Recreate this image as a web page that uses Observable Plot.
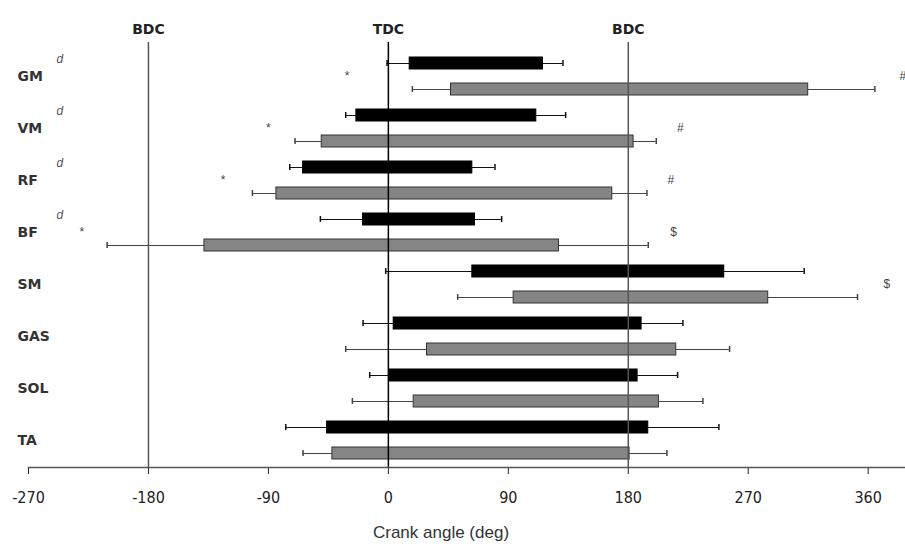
<!DOCTYPE html>
<html>
<head>
<meta charset="utf-8">
<script src="https://cdn.jsdelivr.net/npm/d3@7"></script>
<script src="https://cdn.jsdelivr.net/npm/@observablehq/plot@0.6"></script>
<style>
  html, body { margin: 0; padding: 0; background: #fff; }
  #chart svg { display: block; }
</style>
</head>
<body>
<div id="chart"></div>
<script>
// ---- data (crank angles in degrees) ----
const muscles = ["GM", "VM", "RF", "BF", "SM", "GAS", "SOL", "TA"];
const sessions = ["black", "gray"];
// black bars (first condition)
const onsetBlack   = [16, -24, -64, -19, 63, 4, 1, -46];
const offsetBlack  = [116, 111, 63, 65, 252, 190, 187, 195];
const onsetSDBlack = [17, 8, 10, 32, 65, 23, 15, 31];
const offsetSDBlack= [15, 22, 17, 20, 60, 31, 30, 53];
// gray bars (second condition)
const onsetGray    = [47, -50, -84, -138, 94, 29, 19, -42];
const offsetGray   = [315, 184, 168, 128, 285, 216, 203, 181];
const onsetSDGray  = [29, 20, 18, 73, 42, 61, 46, 22];
const offsetSDGray = [50, 17, 26, 67, 67, 40, 33, 28];

const xTicks = [-270, -180, -90, 0, 90, 180, 270, 360];
const refAngles = [-180, 0, 180];
const refLabels = ["BDC", "TDC", "BDC"];

// significance annotations
const annotMuscles = ["GM", "VM", "RF", "BF", "GM", "VM", "RF", "BF", "SM"];
const annotSymbols = ["*", "*", "*", "*", "#", "#", "#", "$", "$"];
const annotAngles  = [-31, -90, -124, -230, 386, 219, 212, 214, 374];
const dMuscles = ["GM", "VM", "RF", "BF"];

// ---- build table ----
const rows = [];
muscles.forEach((m, i) => {
  rows.push({muscle: m, session: "black", key: m + "|black",
    onset: onsetBlack[i], offset: offsetBlack[i], sdOn: onsetSDBlack[i], sdOff: offsetSDBlack[i]});
  rows.push({muscle: m, session: "gray", key: m + "|gray",
    onset: onsetGray[i], offset: offsetGray[i], sdOn: onsetSDGray[i], sdOff: offsetSDGray[i]});
});
const keys = rows.map(d => d.key);
const whiskerColor = d => d.session === "black" ? "#111" : "#444";

const labelFont = "'DejaVu Sans', sans-serif";

const chart = Plot.plot({
  width: 905,
  height: 546,
  marginLeft: 28,
  marginRight: 0,
  marginTop: 49,
  marginBottom: 79,
  style: {fontFamily: "'Liberation Sans', Arial, sans-serif", background: "#fff", color: "#222"},
  x: {domain: [-270, 388], ticks: xTicks, tickSize: 7, tickPadding: 17,
      tickFormat: d => String(d), label: null},
  y: {domain: keys, paddingInner: 0.54, paddingOuter: 0.27, axis: null},
  marks: [
    // left whiskers
    Plot.ruleY(rows, {y: "key", x1: d => d.onset - d.sdOn, x2: "onset", stroke: whiskerColor, strokeWidth: 1}),
    Plot.tickX(rows, {x: d => d.onset - d.sdOn, y: "key", stroke: whiskerColor, strokeWidth: 1.5, insetTop: 3, insetBottom: 3}),
    // right whiskers
    Plot.ruleY(rows, {y: "key", x1: "offset", x2: d => d.offset + d.sdOff, stroke: whiskerColor, strokeWidth: 1}),
    Plot.tickX(rows, {x: d => d.offset + d.sdOff, y: "key", stroke: whiskerColor, strokeWidth: 1.5, insetTop: 3, insetBottom: 3}),
    // bars
    Plot.barX(rows, {x1: "onset", x2: "offset", y: "key",
      fill: d => d.session === "black" ? "#000" : "#858585",
      stroke: d => d.session === "black" ? "#000" : "#333", strokeWidth: 1}),
    // reference lines
    Plot.ruleX(refAngles, {stroke: d => d === 0 ? "#000" : "#555", strokeWidth: 1.5, insetTop: -7}),
    Plot.text(refAngles, {x: d => d, text: (d, i) => refLabels[i], frameAnchor: "top", dy: -25,
      fontWeight: "bold", fontSize: 14, fontFamily: labelFont, fill: "#222"}),
    // axis line
    Plot.frame({anchor: "bottom", stroke: "#555", strokeWidth: 1.5}),
    // muscle labels
    Plot.text(muscles, {y: d => d + "|black", text: d => d, frameAnchor: "left", dx: -11, dy: 13,
      textAnchor: "start", fontWeight: "bold", fontSize: 14, fontFamily: labelFont, fill: "#333"}),
    Plot.text(dMuscles, {y: d => d + "|black", text: () => "d", frameAnchor: "left", dx: 28, dy: -4,
      textAnchor: "start", fontStyle: "italic", fontSize: 12, fill: "#555"}),
    // significance symbols
    Plot.text(annotMuscles, {y: d => d + "|black", x: (d, i) => annotAngles[i], text: (d, i) => annotSymbols[i],
      dy: 13, fontSize: 12, fill: "#444", fontStyle: (d, i) => annotSymbols[i] === "#" ? "italic" : "normal"}),
    // x-axis title
    Plot.text(["Crank angle (deg)"], {frameAnchor: "bottom", dx: -26, dy: 70, text: d => d,
      fontSize: 17, fill: "#333"})
  ]
});
chart.querySelectorAll("g[aria-label='x-axis tick label'] text, g[aria-label='x-axis tick label']").forEach(el => {
  el.style.fontSize = "16px";
  el.style.fontFamily = "'DejaVu Sans Condensed', 'Liberation Sans Narrow', sans-serif";
  el.style.fontStretch = "condensed";
});
document.getElementById("chart").appendChild(chart);
</script>
</body>
</html>
